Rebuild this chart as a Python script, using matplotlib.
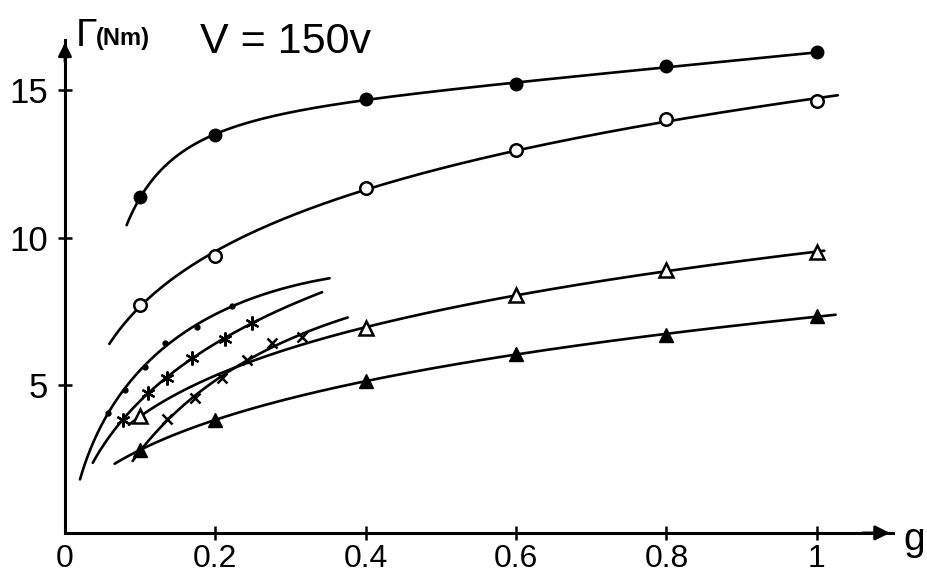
import numpy as np
import matplotlib
matplotlib.use("Agg")
import matplotlib.pyplot as plt

# ---------------- data ----------------
g_main = [0.1, 0.2, 0.4, 0.6, 0.8, 1.0]
torque_filled_circle = [11.36, 13.49, 14.71, 15.19, 15.80, 16.27]
torque_open_circle = [7.73, 9.39, 11.69, 12.98, 14.03, 14.61]
torque_filled_tri = [2.81, 3.83, 5.15, 6.05, 6.70, 7.35]

g_open_tri = [0.1, 0.4, 0.6, 0.8, 1.0]
torque_open_tri = [3.95, 6.95, 8.05, 8.90, 9.50]

g_dot = [0.057, 0.080, 0.106, 0.133, 0.176, 0.222]
torque_dot = [4.07, 4.85, 5.63, 6.44, 6.98, 7.69]

g_star = [0.077, 0.110, 0.136, 0.169, 0.213, 0.249]
torque_star = [3.83, 4.75, 5.25, 5.93, 6.58, 7.12]

g_cross = [0.136, 0.173, 0.209, 0.242, 0.275, 0.315]
torque_cross = [3.86, 4.58, 5.25, 5.86, 6.44, 6.64]

# extent of each hand-drawn fitted curve (g start, g end)
span_filled_circle = [0.082, 1.0]
span_open_circle = [0.059, 1.028]
span_open_tri = [0.085, 1.01]
span_filled_tri = [0.066, 1.025]
span_dot = [0.02, 0.352]
span_star = [0.037, 0.342]
span_cross = [0.09, 0.376]

x_ticks = [0, 0.2, 0.4, 0.6, 0.8, 1.0]
x_tick_labels = ["0", "0.2", "0.4", "0.6", "0.8", "1"]
y_ticks = [5, 10, 15]
y_tick_labels = ["5", "10", "15"]

# ---------------- drawing ----------------
FONT = ["Liberation Sans Narrow", "Liberation Sans", "DejaVu Sans"]
plt.rcParams["font.family"] = FONT

fig = plt.figure(figsize=(9.28, 5.85), dpi=100)
ax = fig.add_axes([0.070, 0.089, 0.892, 0.843])
ax.set_xlim(0, 1.101)
ax.set_ylim(0, 16.7)


def smooth_curve(g, t, span, basis, deg):
    f = np.sqrt if basis == "sqrt" else np.log
    c = np.polyfit(f(np.asarray(g, float)), np.asarray(t, float), deg)
    gg = np.linspace(span[0], span[1], 300)
    return gg, np.polyval(c, f(gg))


LW = 1.9
series = [
    (g_main, torque_filled_circle, span_filled_circle, "log", 3,
     dict(marker="o", ms=9, mfc="black", mec="black")),
    (g_main, torque_open_circle, span_open_circle, "log", 2,
     dict(marker="o", ms=9, mfc="white", mec="black", mew=1.8)),
    (g_open_tri, torque_open_tri, span_open_tri, "log", 2,
     dict(marker="^", ms=10, mfc="white", mec="black", mew=1.8)),
    (g_main, torque_filled_tri, span_filled_tri, "log", 2,
     dict(marker="^", ms=10, mfc="black", mec="black")),
    (g_dot, torque_dot, span_dot, "sqrt", 2,
     dict(marker="o", ms=3.5, mfc="black", mec="black")),
    (g_star, torque_star, span_star, "sqrt", 2,
     dict(marker=(6, 2, 0), ms=10, mfc="black", mec="black", mew=1.6)),
    (g_cross, torque_cross, span_cross, "sqrt", 2,
     dict(marker="x", ms=7, mfc="black", mec="black", mew=1.8)),
]

for g, t, span, basis, deg, mk in series:
    gg, tt = smooth_curve(g, t, span, basis, deg)
    ax.plot(gg, tt, color="black", lw=LW, solid_capstyle="round", zorder=2)
    ax.plot(g, t, linestyle="none", zorder=3, **mk)

# axes styling
for s in ["top", "right"]:
    ax.spines[s].set_visible(False)
ax.spines["left"].set_linewidth(2.2)
ax.spines["bottom"].set_linewidth(2.2)

ax.set_xticks(x_ticks)
ax.set_xticklabels(x_tick_labels)
ax.set_yticks(y_ticks)
ax.set_yticklabels(y_tick_labels)
ax.tick_params(axis="both", direction="inout", length=10, width=1.8,
               labelsize=23, pad=3, colors="black")
ax.tick_params(axis="y", pad=7, labelsize=25)
ax.xaxis.get_major_ticks()[0].tick1line.set_visible(False)

# arrow heads
ax.annotate("", xy=(1.0, 0), xytext=(0.96, 0), xycoords="axes fraction",
            textcoords="axes fraction",
            arrowprops=dict(arrowstyle="-|>", color="black", lw=2,
                            mutation_scale=22), annotation_clip=False)
ax.annotate("", xy=(0, 1.0), xytext=(0, 0.95), xycoords="axes fraction",
            textcoords="axes fraction",
            arrowprops=dict(arrowstyle="-|>", color="black", lw=2,
                            mutation_scale=20), annotation_clip=False)

fig.text(903 / 928, 1 - 540 / 585, "g", fontsize=28, ha="left", va="center")
fig.text(76 / 928, 1 - 36 / 585, "Γ", fontsize=28, ha="left", va="center")
fig.text(96 / 928, 1 - 38 / 585, "(Nm)", fontsize=17, ha="left", va="center",
         fontweight="bold")
fig.text(200 / 928, 1 - 42 / 585, "V = 150v", fontsize=31, ha="left",
         va="center")

fig.savefig("out.png", dpi=100, facecolor="white")
